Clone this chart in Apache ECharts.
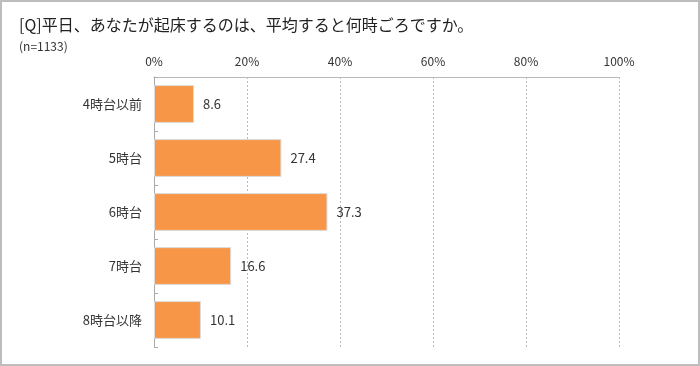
<!DOCTYPE html>
<html><head><meta charset="utf-8">
<script src="https://cdn.jsdelivr.net/npm/echarts@6/dist/echarts.min.js"></script>
<style>html,body{margin:0;padding:0;background:#fff}#c{width:700px;height:366px;box-sizing:border-box;border:2px solid #bdbdbd}</style>
</head><body><div id="c"></div>
<script>
const categories = ['4時台以前','5時台','6時台','7時台','8時台以降'];
const values = [8.6, 27.4, 37.3, 16.6, 10.1];
const tickLabels = ['0%','20%','40%','60%','80%','100%'];
const titleText = '[Q]平日、あなたが起床するのは、平均すると何時ごろですか。';
const subText = '(n=1133)';

const chart = echarts.init(document.getElementById('c'), null, {renderer:'canvas'});
const ff = '"Noto Sans CJK JP", sans-serif';
chart.setOption({
  animation:false,
  title:[
    {text:titleText, left:12, top:10, textStyle:{fontFamily:ff, fontSize:16, fontWeight:'normal', color:'#222'}},
    {text:subText, left:12, top:33, textStyle:{fontFamily:ff, fontSize:12, fontWeight:'normal', color:'#333'}}
  ],
  grid:{left:152, right:79, top:75, bottom:17, containLabel:false},
  xAxis:{
    type:'value', position:'top', min:0, max:100, interval:20,
    axisLabel:{fontFamily:ff, fontSize:12, color:'#333', margin:10, formatter:(v)=>tickLabels[v/20]},
    axisLine:{show:true, lineStyle:{color:'#bbb'}},
    axisTick:{show:false},
    splitLine:{show:true, lineStyle:{color:'#bbb', type:[2,2]}}
  },
  yAxis:{
    type:'category', data:categories, inverse:true,
    axisLabel:{fontFamily:ff, fontSize:13, color:'#333', margin:12},
    axisLine:{show:true, lineStyle:{color:'#aaa'}},
    axisTick:{show:true, inside:true, length:4, lineStyle:{color:'#aaa'}}
  },
  series:[{
    type:'bar', data:values, barWidth:'70%',
    itemStyle:{color:'#F79646', borderColor:'#dcdcdc', borderWidth:1},
    label:{show:true, position:'right', distance:9, fontFamily:ff, fontSize:13, color:'#333', formatter:(p)=>p.value.toFixed(1)}
  }]
});
</script></body></html>
